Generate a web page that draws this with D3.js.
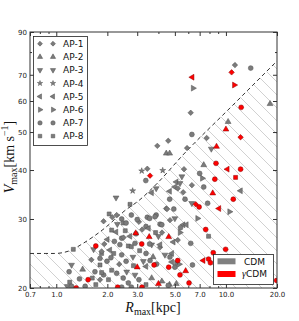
<!DOCTYPE html>
<html>
<head>
<meta charset="utf-8">
<script src="https://cdn.jsdelivr.net/npm/d3@7"></script>
<style>
body { margin: 0; background: #fff; }
text { font-family: "DejaVu Sans", sans-serif; }
</style>
</head>
<body>
<div id="chart"></div>
<script>
var W = 299, H = 321
var pLeft = 30, pTop = 32, pRight = 277, pBottom = 288

var apLabels = ['AP-1', 'AP-2', 'AP-3', 'AP-4', 'AP-5', 'AP-6', 'AP-7', 'AP-8']
var modelLabels = ['CDM', 'CDM']

var xTicks = [0.7, 1, 2, 3, 5, 7, 10, 20]
var xMinor = [0.8, 0.9, 4, 6, 8, 9]
var yTicks = [20, 30, 40, 50, 60, 70, 90]
var yMinor = [80]

// dashed boundary (R, V)
var boundR = [0.7, 0.86, 0.98, 1.2, 1.44, 1.885, 2.51, 3.11, 3.96, 5.58, 10.57, 20]
var boundV = [24.5, 24.5, 24.5, 24.9, 26.0, 28.2, 31.4, 33.6, 37.1, 43.7, 57.6, 75.9]

// [Rmax, Vmax, AP index]
var cdmPoints = [
  [11.3,74.1,1],[14.0,72.8,7],[6.4,64.7,6],[6.2,56.0,1],[18.2,59.0,2],[10.3,53.1,2],[6.3,49.3,7],[7.7,48.3,1],
  [8.2,45.3,3],[5.9,45.5,1],[4.57,47.5,1],[3.94,46.1,1],[4.45,44.1,2],[4.66,44.1,2],
  [3.19,39.8,4],[3.44,40.3,1],[3.37,37.6,7],[4.24,39.9,4],[2.82,35.4,4],[2.25,34.0,3],[3.65,35.0,5],[3.88,35.9,3],
  [7.0,39.2,7],[7.4,41.2,2],[7.25,38.1,6],[5.66,40.2,1],[5.5,38.5,3],[6.3,36.6,1],[7.4,36.2,7],[12.2,35.4,5],
  [5.1,37.3,5],[5.36,37.0,3],[5.0,36.2,5],[5.2,35.9,1],[5.6,35.1,1],[5.74,33.7,7],[6.3,32.9,3],[7.8,32.9,7],
  [10.5,31.3,6],[6.8,30.1,6],[5.0,30.1,3],[5.6,29.0,5],[5.85,29.0,5],[5.4,28.5,7],[7.9,27.1,8],[5.2,26.5,1],
  [6.2,26.0,7],[5.36,27.7,6],[6.35,22.9,7],[5.1,23.1,6],[4.8,23.3,5],[4.8,24.5,5],
  [4.44,31.9,1],[4.93,31.8,7],[3.88,30.7,7],[4.09,29.1,7],[3.85,27.7,8],[4.2,27.7,1],[3.65,25.8,3],[4.09,25.4,1],
  [5.3,23.0,6],[4.65,20.4,2],[4.66,33.7,7],[4.66,35.3,5],[4.5,31.8,1],[3.44,30.3,7],[3.82,30.4,7],[2.05,30.9,8],
  [2.43,30.0,7],[2.72,32.7,8],[2.27,30.7,1],[2.77,30.7,7],[2.48,29.3,8],[3.07,29.5,1],[2.43,26.8,7],[3.21,28.2,1],
  [3.38,28.7,7],[1.92,25.9,1],[1.90,29.6,1],
  [2.14,30.3,1],[2.29,29.1,3],[2.58,29.3,7],[3.55,30.1,7],[4.68,29.8,1],[4.19,29.0,7],[2.12,28.1,8],[2.25,27.8,5],
  [2.49,26.9,1],[2.72,27.1,5],[2.66,25.6,8],[2.37,25.8,7],[2.77,25.5,8],[2.91,26.0,7],[4.09,25.8,5],[4.0,27.1,3],
  [3.55,25.9,7],[4.9,26.2,5],[2.07,25.0,5],[2.18,24.5,8],[1.85,24.5,8],[1.99,23.4,7],[2.43,24.3,7],[2.58,23.4,7],
  [2.83,24.0,3],[3.38,24.5,7],[3.72,24.0,2],[4.37,24.3,3],[4.68,24.0,7],[2.12,22.2,8],[2.27,21.8,7],[3.26,23.4,3],
  [3.38,22.7,5],[3.57,23.5,7],[1.90,21.6,7],[2.03,21.0,8],[2.48,21.2,7],[2.66,20.6,7],[2.91,21.6,3],[3.07,21.0,7],
  [3.65,21.2,2],[2.77,20.1,7],[2.43,20.1,7],[4.19,20.8,2],[3.38,20.4,8],[4.57,20.3,7],[5.1,20.5,2],[5.0,22.6,7],
  [1.26,25.1,8],[1.66,25.1,3],[1.23,22.9,3],[1.43,22.3,2],[1.19,22.0,7],[1.37,21.1,7],[1.63,21.2,8],[1.20,20.7,8],
  [1.16,20.2,3],[1.23,20.2,7],[1.81,22.9,8],[1.61,23.6,1],[1.81,23.8,7],[1.85,24.8,1],[1.69,22.0,7],[1.71,20.4,8],
  [1.48,20.2,7],[1.81,21.0,1],[1.85,21.9,8],
  [2.2,26.3,7],[2.55,28.0,8],[2.95,27.5,7],[3.1,24.9,8],[2.6,22.0,3],[2.0,26.6,5],[3.0,29.9,7],[2.35,23.0,1],
  [3.9,23.0,7],[3.5,28.4,5],[2.85,22.8,8],[2.1,23.9,7]
]

var gcdmPoints = [
  [10.8,71.0,1],[6.33,69.0,5],[11.2,65.9,6],[12.3,57.8,7],[10.0,50.8,2],[12.2,48.5,1],[8.8,45.9,2],[3.57,38.7,1],
  [8.74,41.6,7],[10.2,40.2,5],[12.2,40.2,7],[11.4,38.3,8],[8.6,37.9,7],[8.36,34.9,2],[11.05,33.7,7],[6.64,32.7,1],
  [6.95,32.2,7],[9.1,31.9,5],[7.6,28.2,7],[8.42,24.6,7],[9.96,25.1,7],[7.35,23.5,5],[7.9,23.7,7],[8.1,23.2,7],
  [5.79,22.1,2],[5.36,21.6,7],[6.06,20.6,7],[19.9,20.9,7],[3.19,25.9,7],[2.94,27.6,2],[3.53,27.0,2],[4.6,27.0,2],
  [3.77,22.9,7],[4.6,22.6,7],[3.0,22.6,2],[4.0,20.5,2],[2.3,20.1,7],[3.2,20.1,7],[5.2,23.5,7],[1.71,25.6,7],
  [1.54,21.0,7],[1.31,20.0,7]
]

var svg = d3.select('#chart').append('svg')
  .attr('width', W)
  .attr('height', H)

var x = d3.scaleLog().domain([0.7, 20]).range([pLeft, pRight])
var y = d3.scaleLog().domain([20, 90]).range([pBottom, pTop])

var defs = svg.append('defs')
defs.append('clipPath').attr('id', 'plot')
  .append('rect').attr('x', pLeft).attr('y', pTop).attr('width', pRight - pLeft).attr('height', pBottom - pTop)
var hs = 13
defs.append('pattern').attr('id', 'hatch')
  .attr('patternUnits', 'userSpaceOnUse').attr('width', hs).attr('height', hs)
  .append('path')
  .attr('d', 'M0,0L' + hs + ',' + hs + 'M-2,' + (hs - 2) + 'L2,' + (hs + 2) + 'M' + (hs - 2) + ',-2L' + (hs + 2) + ',2')
  .attr('stroke', '#bdbdbd').attr('stroke-width', 0.7)

var bound = boundR.map(function(r, i){ return [r, boundV[i]] })
var plot = svg.append('g').attr('clip-path', 'url(#plot)')

plot.append('path').datum(bound)
  .attr('fill', 'url(#hatch)')
  .attr('d', d3.area().curve(d3.curveMonotoneX)
    .x(function(d){ return x(d[0]) })
    .y0(pBottom)
    .y1(function(d){ return y(d[1]) }))

plot.append('path').datum(bound)
  .attr('fill', 'none').attr('stroke', '#333').attr('stroke-width', 1)
  .attr('stroke-dasharray', '4,3')
  .attr('d', d3.line().curve(d3.curveMonotoneX)
    .x(function(d){ return x(d[0]) })
    .y(function(d){ return y(d[1]) }))

function markerPath(ap, s) {
  var types = [d3.symbolSquare, d3.symbolTriangle, d3.symbolTriangle, d3.symbolStar,
    d3.symbolTriangle, d3.symbolTriangle, d3.symbolCircle, d3.symbolSquare]
  var sizes = [15, 15, 15, 11, 15, 15, 19, 16]
  return d3.symbol().type(types[ap - 1]).size(sizes[ap - 1] * s)()
}
function markerRot(ap) {
  return [45, 0, 180, 0, -90, 90, 0, 0][ap - 1]
}

var models = [
  {pts: cdmPoints, fill: '#7b7b7b', stroke: '#505050'},
  {pts: gcdmPoints, fill: '#ff0000', stroke: '#8a0000'}
]
models.forEach(function(m){
  plot.append('g').selectAll('path').data(m.pts).enter().append('path')
    .attr('d', function(d){ return markerPath(d[2], 1) })
    .attr('transform', function(d){ return 'translate(' + x(d[0]) + ',' + y(d[1]) + ') rotate(' + markerRot(d[2]) + ')' })
    .attr('fill', m.fill).attr('stroke', m.stroke).attr('stroke-width', 0.5)
})

// axes, ticks inward
function styleAxis(g) {
  g.select('.domain').remove()
  g.selectAll('line').attr('stroke', '#333')
  g.selectAll('text').attr('fill', '#222').style('font-size', '7px').style('font-family', 'DejaVu Sans')
}
svg.append('g').attr('transform', 'translate(0,' + pBottom + ')')
  .call(d3.axisBottom(x).tickValues(xTicks).tickSize(-4).tickPadding(4).tickFormat(d3.format('.1f')))
  .call(styleAxis)
svg.append('g').attr('transform', 'translate(0,' + pBottom + ')')
  .call(d3.axisBottom(x).tickValues(xMinor).tickSize(-2).tickFormat('')).call(styleAxis)
svg.append('g').attr('transform', 'translate(0,' + pTop + ')')
  .call(d3.axisTop(x).tickValues(xTicks).tickSize(-4).tickFormat('')).call(styleAxis)
svg.append('g').attr('transform', 'translate(0,' + pTop + ')')
  .call(d3.axisTop(x).tickValues(xMinor).tickSize(-2).tickFormat('')).call(styleAxis)
svg.append('g').attr('transform', 'translate(' + pLeft + ',0)')
  .call(d3.axisLeft(y).tickValues(yTicks).tickSize(-4).tickPadding(3).tickFormat(d3.format('d')))
  .call(styleAxis)
svg.append('g').attr('transform', 'translate(' + pLeft + ',0)')
  .call(d3.axisLeft(y).tickValues(yMinor).tickSize(-2).tickFormat('')).call(styleAxis)
svg.append('g').attr('transform', 'translate(' + pRight + ',0)')
  .call(d3.axisRight(y).tickValues(yTicks).tickSize(-4).tickFormat('')).call(styleAxis)
svg.append('g').attr('transform', 'translate(' + pRight + ',0)')
  .call(d3.axisRight(y).tickValues(yMinor).tickSize(-2).tickFormat('')).call(styleAxis)

svg.append('rect')
  .attr('x', pLeft).attr('y', pTop).attr('width', pRight - pLeft).attr('height', pBottom - pTop)
  .attr('fill', 'none').attr('stroke', '#333').attr('stroke-width', 1)

// axis labels
var serif = '"Liberation Serif", "DejaVu Serif", serif'
var xl = svg.append('text').attr('x', 153).attr('y', 312).attr('text-anchor', 'middle')
  .style('font-family', serif).style('font-size', '14px').attr('fill', '#111')
xl.append('tspan').style('font-style', 'italic').text('R')
xl.append('tspan').style('font-size', '10px').attr('dy', 3).text('max')
xl.append('tspan').attr('dy', -3).text('[kpc]')

var yl = svg.append('text').attr('transform', 'translate(13.5,157) rotate(-90)').attr('text-anchor', 'middle')
  .style('font-family', serif).style('font-size', '14px').attr('fill', '#111')
yl.append('tspan').style('font-style', 'italic').text('V')
yl.append('tspan').style('font-size', '10px').attr('dy', 3).text('max')
yl.append('tspan').attr('dy', -3).text('[km s')
yl.append('tspan').style('font-size', '10px').attr('dy', -6).text('\u22121')
yl.append('tspan').attr('dy', 6).text(']')

// AP legend
var lg = svg.append('g')
lg.append('rect').attr('x', 33.5).attr('y', 36.5).attr('width', 54).attr('height', 109)
  .attr('fill', '#fff').attr('stroke', '#222').attr('stroke-width', 0.8)
apLabels.forEach(function(lab, i){
  var yy = 43.7 + i * 13.2
  ;[40, 53].forEach(function(xx){
    lg.append('path').attr('d', markerPath(i + 1, 0.8))
      .attr('transform', 'translate(' + xx + ',' + yy + ') rotate(' + markerRot(i + 1) + ')')
      .attr('fill', '#7b7b7b').attr('stroke', '#505050').attr('stroke-width', 0.5)
  })
  lg.append('text').attr('x', 63).attr('y', yy + 3.3).style('font-size', '9px').attr('fill', '#111').text(lab)
})

// model legend
var mg = svg.append('g')
mg.append('rect').attr('x', 213.5).attr('y', 254.5).attr('width', 60).attr('height', 30)
  .attr('fill', '#fff').attr('stroke', '#222').attr('stroke-width', 0.8)
var patch = ['#808080', '#ff0000']
modelLabels.forEach(function(lab, i){
  var yy = 261.3 + i * 12.7
  mg.append('rect').attr('x', 217.5).attr('y', yy - 3).attr('width', 18).attr('height', 6).attr('fill', patch[i])
  var t = mg.append('text').attr('x', i == 0 ? 244 : 242).attr('y', yy + 3.3).style('font-size', '9px').attr('fill', '#111')
  if (i == 1) t.append('tspan').style('font-family', serif).style('font-style', 'italic').style('font-size', '10px').text('\u03b3')
  t.append('tspan').text(lab)
})
</script>
</body>
</html>
